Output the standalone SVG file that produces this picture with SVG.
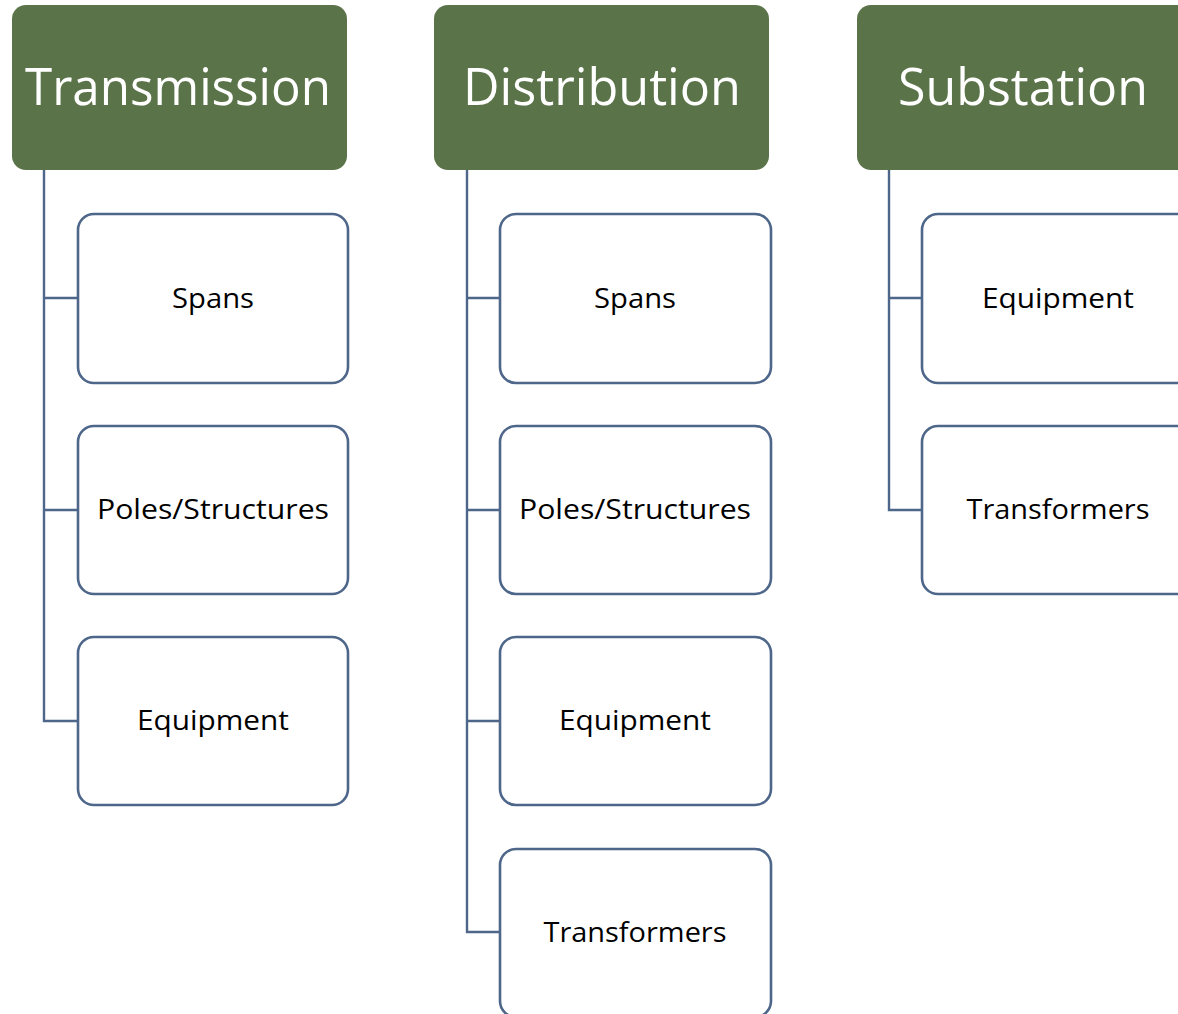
<svg xmlns="http://www.w3.org/2000/svg" width="1178" height="1014" viewBox="0 0 1178 1014">
<style>
.hdr{fill:#5B7349;}
.hdr-t{font-family:"Open Sans","Liberation Sans",sans-serif;font-size:52px;fill:#ffffff;text-anchor:middle;}
.box{fill:#ffffff;stroke:#4D6689;stroke-width:2.6;}
.box-t{font-family:"Open Sans","Liberation Sans",sans-serif;font-size:27px;fill:#000000;text-anchor:middle;}
.con{fill:none;stroke:#4D6689;stroke-width:2.4;}
</style>
<rect width="1178" height="1014" fill="#ffffff"/>
<g id="connectors">
<path class="con" d="M44,170 V721 H78 M44,298 H78 M44,510 H78"/>
<path class="con" d="M467,170 V932 H500 M467,298 H500 M467,510 H500 M467,721 H500"/>
<path class="con" d="M889,170 V510 H922 M889,298 H922"/>
</g>
<g id="transmission"><rect class="hdr" x="12" y="5" width="335" height="165" rx="14"/><text class="hdr-t" x="178" y="105" textLength="306" lengthAdjust="spacingAndGlyphs">Transmission</text></g>
<g id="distribution"><rect class="hdr" x="434" y="5" width="335" height="165" rx="14"/><text class="hdr-t" x="602" y="105" textLength="278" lengthAdjust="spacingAndGlyphs">Distribution</text></g>
<g id="substation"><rect class="hdr" x="857" y="5" width="335" height="165" rx="14"/><text class="hdr-t" x="1023" y="105" textLength="250" lengthAdjust="spacingAndGlyphs">Substation</text></g>
<g id="t-spans"><rect class="box" x="78" y="214" width="270" height="169" rx="16"/><text class="box-t" x="213" y="308" textLength="82" lengthAdjust="spacingAndGlyphs">Spans</text></g>
<g id="t-poles"><rect class="box" x="78" y="426" width="270" height="168" rx="16"/><text class="box-t" x="213" y="519" textLength="232" lengthAdjust="spacingAndGlyphs">Poles/Structures</text></g>
<g id="t-equipment"><rect class="box" x="78" y="637" width="270" height="168" rx="16"/><text class="box-t" x="213" y="730" textLength="152" lengthAdjust="spacingAndGlyphs">Equipment</text></g>
<g id="d-spans"><rect class="box" x="500" y="214" width="271" height="169" rx="16"/><text class="box-t" x="635" y="308" textLength="82" lengthAdjust="spacingAndGlyphs">Spans</text></g>
<g id="d-poles"><rect class="box" x="500" y="426" width="271" height="168" rx="16"/><text class="box-t" x="635" y="519" textLength="232" lengthAdjust="spacingAndGlyphs">Poles/Structures</text></g>
<g id="d-equipment"><rect class="box" x="500" y="637" width="271" height="168" rx="16"/><text class="box-t" x="635" y="730" textLength="152" lengthAdjust="spacingAndGlyphs">Equipment</text></g>
<g id="d-transformers"><rect class="box" x="500" y="849" width="271" height="168" rx="16"/><text class="box-t" x="635" y="942" textLength="183" lengthAdjust="spacingAndGlyphs">Transformers</text></g>
<g id="s-equipment"><rect class="box" x="922" y="214" width="271" height="169" rx="16"/><text class="box-t" x="1058" y="308" textLength="152" lengthAdjust="spacingAndGlyphs">Equipment</text></g>
<g id="s-transformers"><rect class="box" x="922" y="426" width="271" height="168" rx="16"/><text class="box-t" x="1058" y="519" textLength="183" lengthAdjust="spacingAndGlyphs">Transformers</text></g>
</svg>
